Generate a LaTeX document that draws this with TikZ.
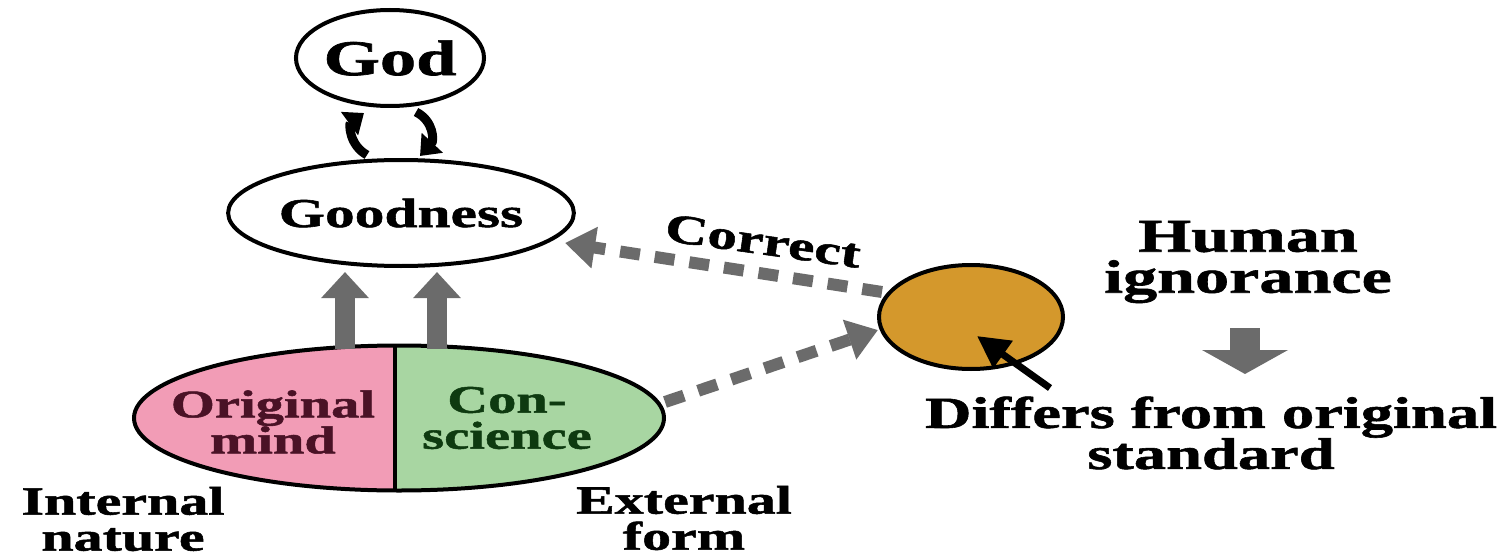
\documentclass[tikz,border=0pt]{standalone}
\usepackage{fontspec}
\setmainfont{Liberation Serif}[FakeStretch=1.45, BoldFeatures={FakeBold=1.3}]
\usetikzlibrary{arrows.meta,shapes.geometric}
\definecolor{pinkc}{HTML}{F29CB6}
\definecolor{greenc}{HTML}{A8D6A2}
\definecolor{orangec}{HTML}{D4982C}
\definecolor{grayc}{HTML}{6B6B6B}
\definecolor{mindtext}{HTML}{4A1226}
\definecolor{context}{HTML}{0E3A10}
\begin{document}
\begin{tikzpicture}[x=1pt,y=-1pt,
 lbl/.style={font=\fontsize{40}{37}\selectfont\bfseries, align=center, inner sep=0pt},
 oval/.style={ellipse, draw, line width=4pt, inner sep=0pt},
 grayup/.style={grayc, line width=20pt, -{Triangle[width=46pt,length=26pt]}},
 graydown/.style={grayc, line width=30pt, -{Triangle[width=85pt,length=24pt]}},
 dasharrow/.style={grayc, line width=12pt, dash pattern=on 20pt off 15pt, -{Triangle[width=40pt,length=30pt]}},
 curv/.style={line width=9pt, -{Triangle[width=28pt,length=18pt]}},
 blackarrow/.style={line width=7pt, -{Triangle[width=32pt,length=32pt]}}]
\useasboundingbox (0,0) rectangle (1504,559);
\fill[white] (0,0) rectangle (1504,559);

% God and Goodness
\node[oval, minimum width=176pt, minimum height=96pt, lbl, font=\fontsize{50}{50}\selectfont\bfseries] (god) at (390,58) {God};
\node[oval, minimum width=314pt, minimum height=106pt, lbl, font=\fontsize{41}{41}\selectfont\bfseries] (good) at (401,213) {Goodness};

% cycle arrows
\coordinate (c1s) at (367,155);
\coordinate (c1e) at (364,113);
\coordinate (c2s) at (416,112);
\coordinate (c2e) at (420,156);
\draw[curv] (c1s) .. controls (349,145) and (349,124) .. (c1e);
\draw[curv] (c2s) .. controls (434,121) and (434,141) .. (c2e);

% lower split ellipse
\node[oval, minimum width=530pt, minimum height=145pt,
  path picture={
    \fill[pinkc] (path picture bounding box.south west) rectangle ([xshift=-4pt]path picture bounding box.north);
    \fill[greenc] ([xshift=-4pt]path picture bounding box.south) rectangle (path picture bounding box.north east);
    \draw[line width=4pt] ([xshift=-4pt]path picture bounding box.south) -- ([xshift=-4pt]path picture bounding box.north);
  }] (mind) at (399,418) {};
\node[lbl, text=mindtext, font=\fontsize{39}{36}\selectfont\bfseries] (orig) at (273,422) {Original\\mind};
\node[lbl, text=context, font=\fontsize{39}{36}\selectfont\bfseries] (consc) at (507,418) {Con-\\science};

% up arrows
\coordinate (u1s) at (345,349);
\coordinate (u1e) at (345,272);
\coordinate (u2s) at (437,349);
\coordinate (u2e) at (437,272);
\draw[grayup] (u1s) -- (u1e);
\draw[grayup] (u2s) -- (u2e);

% labels under
\node[lbl, font=\fontsize{40}{36}\selectfont\bfseries] (internal) at (123,519) {Internal\\nature};
\node[lbl, font=\fontsize{40}{36}\selectfont\bfseries] (external) at (684,518) {External\\form};

% orange circle
\node[ellipse, draw, line width=4pt, fill=orangec, minimum width=184pt, minimum height=104pt] (err) at (971,317) {};

% dashed arrows
\coordinate (d1s) at (882,292);
\coordinate (d1e) at (565,243);
\draw[dasharrow] (d1s) -- (d1e);
\node[lbl, rotate=-8, font=\fontsize{41}{41}\selectfont\bfseries] (correct) at (763,241) {Correct};
\coordinate (d2s) at (665,402);
\coordinate (d2e) at (878,330);
\draw[dasharrow] (d2s) -- (d2e);

% black arrow
\coordinate (btail) at (1050,388);
\coordinate (bhead) at (977,336);
\draw[blackarrow] (btail) -- (bhead);

% right texts
\node[lbl, font=\fontsize{47}{41}\selectfont\bfseries] (human) at (1248,262) {Human\\ignorance};
\coordinate (dns) at (1245,328);
\coordinate (dne) at (1245,374);
\draw[graydown] (dns) -- (dne);
\node[lbl, font=\fontsize{44.5}{41}\selectfont\bfseries] (differs) at (1211,433) {Differs from original\\standard};
\end{tikzpicture}
\end{document}
